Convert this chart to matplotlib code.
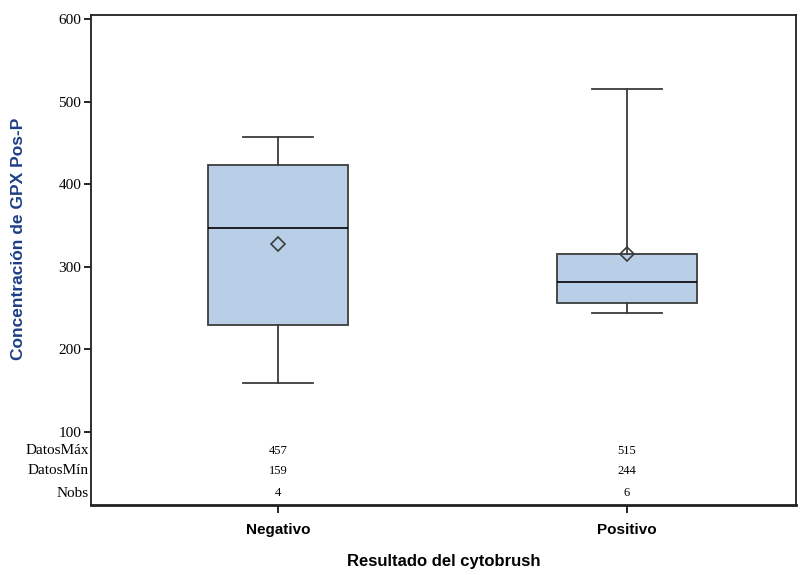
import matplotlib.pyplot as plt

# grupos y estadisticos por grupo
grupos = ["Negativo", "Positivo"]
q1 = [230, 256]
q3 = [423, 316]
medianas = [347, 282]
medias = [327, 315]
datos_max = [457, 515]
datos_min = [159, 244]
nobs = [4, 6]

y_ticks = [100, 200, 300, 400, 500, 600]
fila_labels = ["DatosMáx", "DatosMín", "Nobs"]
fila_y = [77, 53, 26]

stats = []
for i, g in enumerate(grupos):
    stats.append({
        "label": g,
        "q1": q1[i], "q3": q3[i], "med": medianas[i], "mean": medias[i],
        "whislo": datos_min[i], "whishi": datos_max[i], "fliers": [],
    })

fig = plt.figure(figsize=(8.04, 5.75), dpi=100)
ax = fig.add_axes([0.1132, 0.1217, 0.8768, 0.8522])

pos = [1, 2]
edge = "#3c3c3c"
ax.bxp(stats, positions=pos, widths=0.4, showmeans=True, patch_artist=True,
       boxprops=dict(facecolor="#b9cfe8", edgecolor=edge, linewidth=1.3),
       medianprops=dict(color="black", linewidth=1.2),
       whiskerprops=dict(color=edge, linewidth=1.3),
       capprops=dict(color=edge, linewidth=1.3),
       meanprops=dict(marker="D", markerfacecolor="none", markeredgecolor=edge,
                      markersize=7, markeredgewidth=1.2),
       capwidths=0.2)

ax.set_xlim(0.464, 2.484)
ax.set_ylim(11.6, 604.8)

for s in ax.spines.values():
    s.set_linewidth(1.3)
    s.set_color("#202020")
ax.spines["bottom"].set_linewidth(2)

ax.set_yticks(y_ticks)
ax.set_yticklabels([str(v) for v in y_ticks], family="Liberation Serif", fontsize=11)
ax.tick_params(axis="y", direction="out", length=5, width=1.2, pad=2)

ax.set_xticks(pos)
ax.set_xticklabels(grupos, family="Liberation Sans", fontweight="bold", fontsize=11)
ax.tick_params(axis="x", direction="out", length=6, width=1.2, pad=7)

# tabla de datos bajo las cajas
for j, lab in enumerate(fila_labels):
    ax.text(-0.003, fila_y[j], lab, transform=ax.get_yaxis_transform(),
            ha="right", va="center", family="Liberation Serif", fontsize=11)
for i, x in enumerate(pos):
    fila_vals = [datos_max[i], datos_min[i], nobs[i]]
    for j, v in enumerate(fila_vals):
        ax.text(x, fila_y[j], str(v), ha="center", va="center",
                family="Liberation Serif", fontsize=9)

ax.set_ylabel("Concentración de GPX Pos-P", family="Liberation Sans",
              fontweight="bold", fontsize=12.5, color="#1f3f86")
ax.yaxis.set_label_coords(-0.0925, 0.543)
ax.set_xlabel("Resultado del cytobrush", family="Liberation Sans",
              fontweight="bold", fontsize=12, labelpad=12)

fig.savefig("out.png", dpi=100)
